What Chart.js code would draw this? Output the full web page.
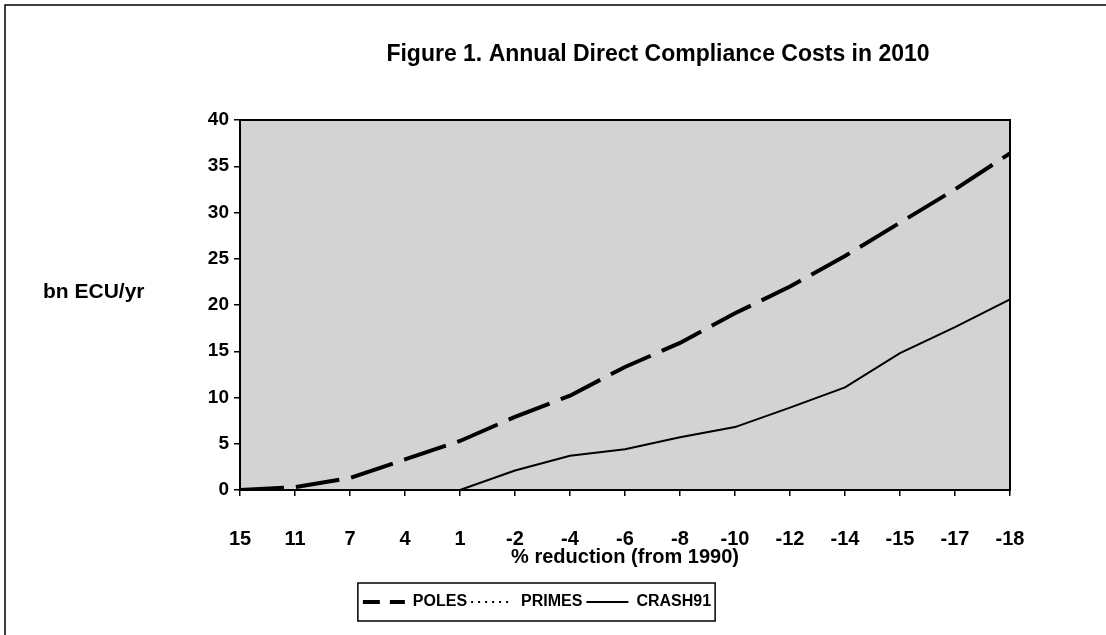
<!DOCTYPE html>
<html>
<head>
<meta charset="utf-8">
<script src="https://cdn.jsdelivr.net/npm/chart.js@4.4.1/dist/chart.umd.min.js"></script>
<style>
    html, body { margin: 0; padding: 0; background: #fff; }
    #caixa { width: 1106px; height: 635px; position: relative; }
</style>
</head>
<body>
<div id="caixa"><canvas id="graficoCustos"></canvas></div>
<script>
const reducao = ['15', '11', '7', '4', '1', '-2', '-4', '-6', '-8', '-10', '-12', '-14', '-15', '-17', '-18'];
const poles = [0, 0.3, 1.3, 3.3, 5.3, 7.9, 10.2, 13.3, 15.9, 19.1, 22.0, 25.3, 28.9, 32.5, 36.4];
const primes = [null, null, null, null, null, null, null, null, null, null, null, null, null, null, null];
const crash91 = [0, 0, 0, 0, 0, 2.1, 3.7, 4.4, 5.7, 6.8, 8.9, 11.1, 14.8, 17.6, 20.6];
const yMin = 0, yMax = 40, yPasso = 5;

const titulo = 'Figure 1. Annual Direct Compliance Costs in 2010';
const rotuloY = 'bn ECU/yr';
const rotuloX = '% reduction (from 1990)';

const fonte = '"Liberation Sans", Arial, sans-serif';
Chart.defaults.font.family = fonte;
Chart.defaults.font.weight = 'bold';
Chart.defaults.color = '#000';

// fundo cinza, moldura do grafico, caixa da legenda e textos soltos
const moldura = {
    id: 'moldura',
    beforeDraw(chart) {
        const { ctx, chartArea: a } = chart;
        ctx.save();
        ctx.fillStyle = '#d3d3d3';
        ctx.fillRect(a.left, a.top, a.width, a.height);
        ctx.restore();
    },
    afterDraw(chart) {
        const { ctx, chartArea: a, legend } = chart;
        ctx.save();
        ctx.strokeStyle = '#000';
        ctx.lineWidth = 2;
        ctx.strokeRect(a.left, a.top, a.width, a.height);

        ctx.lineWidth = 1.5;
        ctx.beginPath();
        ctx.moveTo(5, 635);
        ctx.lineTo(5, 5);
        ctx.lineTo(1106, 5);
        ctx.stroke();

        const caixas = legend.legendHitBoxes;
        const esq = Math.min(...caixas.map(b => b.left)) - 5;
        const dir = Math.max(...caixas.map(b => b.left + b.width)) + 4;
        const topo = caixas[0].top - 11;
        const base = caixas[0].top + caixas[0].height + 11;
        ctx.strokeRect(esq, topo, dir - esq, base - topo);

        ctx.fillStyle = '#000';
        ctx.textBaseline = 'middle';
        ctx.textAlign = 'center';
        ctx.font = 'bold 23px ' + fonte;
        ctx.fillText(titulo, 658, 55);
        ctx.textAlign = 'left';
        ctx.font = 'bold 21px ' + fonte;
        ctx.fillText(rotuloY, 43, 292);
        ctx.restore();
    }
};

const ctx = document.getElementById('graficoCustos').getContext('2d');
const graficoCustos = new Chart(ctx, {
    type: 'line',
    data: {
        labels: reducao,
        datasets: [
            {
                label: 'POLES',
                data: poles,
                borderColor: '#000',
                borderWidth: 4,
                borderDash: [44, 12],
                pointRadius: 0,
                tension: 0
            },
            {
                label: 'PRIMES',
                data: primes,
                borderColor: '#000',
                borderWidth: 2,
                borderDash: [2, 5],
                pointRadius: 0,
                tension: 0
            },
            {
                label: 'CRASH91',
                data: crash91,
                borderColor: '#000',
                borderWidth: 2,
                pointRadius: 0,
                tension: 0
            }
        ]
    },
    options: {
        responsive: true,
        maintainAspectRatio: false,
        animation: false,
        layout: { padding: { top: 120, right: 32, bottom: 15, left: 0 } },
        plugins: {
            title: { display: false },
            tooltip: { enabled: false },
            legend: {
                position: 'bottom',
                labels: {
                    usePointStyle: true,
                    pointStyle: 'line',
                    pointStyleWidth: 42,
                    padding: 4,
                    color: '#000',
                    font: { size: 16, weight: 'bold' },
                    generateLabels(chart) {
                        const itens = Chart.defaults.plugins.legend.labels.generateLabels(chart);
                        itens.forEach(it => {
                            it.pointStyle = 'line';
                            if (it.text === 'POLES') it.lineDash = [17, 10];
                            if (it.text === 'PRIMES') it.lineDash = [2, 5];
                        });
                        return itens;
                    }
                }
            }
        },
        scales: {
            x: {
                offset: false,
                grid: { display: true, drawOnChartArea: false, drawTicks: true, tickLength: 6, color: '#000', lineWidth: 1.5 },
                border: { display: true, color: '#000', width: 2 },
                ticks: { padding: 33, maxRotation: 0, autoSkip: false, color: '#000', font: { size: 20, weight: 'bold', lineHeight: 1 } },
                title: { display: true, text: rotuloX, color: '#000', font: { size: 20, weight: 'bold', lineHeight: 1 }, padding: { top: 0, bottom: 23 } },
                afterFit(s) { s.height = 100; }
            },
            y: {
                min: yMin,
                max: yMax,
                grid: { display: true, drawOnChartArea: false, drawTicks: true, tickLength: 6, color: '#000', lineWidth: 1.5 },
                border: { display: true, color: '#000', width: 2 },
                ticks: { stepSize: yPasso, padding: 5, color: '#000', font: { size: 19, weight: 'bold' } },
                afterFit(s) { s.width = 240; }
            },
            y2: {
                position: 'right',
                grid: { display: false },
                border: { display: false },
                ticks: { display: false },
                afterFit(s) { s.width = 64; }
            }
        }
    },
    plugins: [moldura]
});
</script>
</body>
</html>
